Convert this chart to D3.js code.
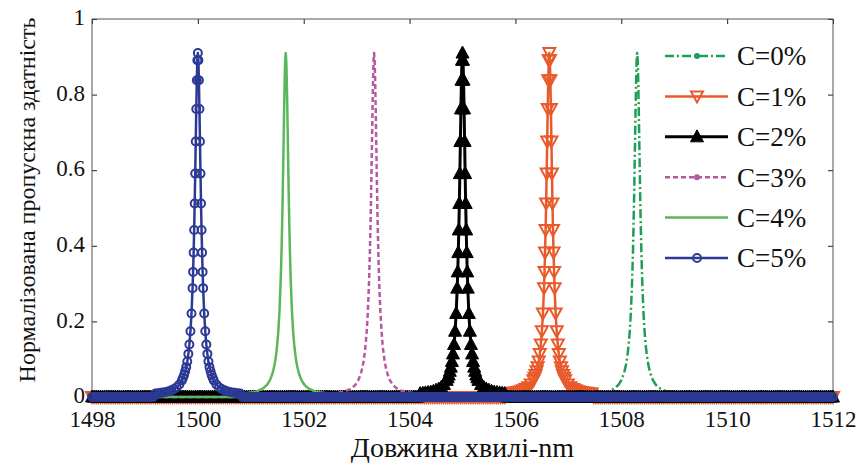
<!DOCTYPE html>
<meta charset="utf-8">
<head>
<style type='text/css'>
  body {
    margin: 0;
    background: #fff;
  }
  .axis .domain {
    display: none;
  }
  .axis line {
    stroke: #222;
  }
  .frame {
    fill: none;
    stroke: #555;
    stroke-width: 1;
  }
</style>
</head>
<body>
<div id="chart"></div>
<script src="https://d3js.org/d3.v7.min.js"></script>
<script>
// series names, in the order they were plotted
var labels = ["C=0%", "C=1%", "C=2%", "C=3%", "C=4%", "C=5%"];
// peak wavelength of each series (nm)
var centers = [1508.30, 1506.64, 1505.00, 1503.33, 1501.66, 1500.00];
// peak shape: distance from the peak (nm) and transmission
var peakOffset = [0, 0.01, 0.02, 0.03, 0.04, 0.05, 0.06, 0.07, 0.08, 0.09, 0.10,
                  0.12, 0.14, 0.16, 0.18, 0.20, 0.22, 0.24, 0.26, 0.28, 0.30,
                  0.35, 0.40, 0.45, 0.50, 0.55, 0.60, 0.65, 0.70, 0.75, 0.80];
var peakValue = [0.910, 0.891, 0.838, 0.762, 0.676, 0.591, 0.512, 0.442, 0.382, 0.331, 0.288,
                 0.221, 0.174, 0.139, 0.114, 0.094, 0.079, 0.068, 0.058, 0.051, 0.044,
                 0.033, 0.026, 0.021, 0.018, 0.015, 0.013, 0.012, 0.011, 0.010, 0.009];
// flat level away from the peaks, and the wavelength sampling of the flat part
var baseValue = 0;
var sampleStart = 1498, sampleEnd = 1512, sampleStep = 0.04;
// axis ticks
var xTicks = [1498, 1500, 1502, 1504, 1506, 1508, 1510, 1512];
var yTicks = [0, 0.2, 0.4, 0.6, 0.8, 1];

var width = 863,
    height = 464;
var serif = "Liberation Serif, Times New Roman, Tinos, DejaVu Serif, serif";

var svg = d3.select("#chart").append("svg")
    .attr("width", width)
    .attr("height", height);

var x = d3.scaleLinear().domain([1498, 1512]).range([92, 833]);
var y = d3.scaleLinear().domain([0, 1]).range([397, 19]);

// line styles per series
var colors = ["#1f9e55", "#e95a2b", "#000000", "#b8589e", "#5ab75a", "#2c3a95"];
var dashes = ["9,3,2,3", null, null, "5,3", null, null];
var widths = [2.5, 2.5, 3, 2.5, 2.5, 2.5];
var markers = ["dot", "down", "up", "dot", null, "circle"];
var plotMarkers = [false, true, true, false, false, true];

// build each spectrum: flat samples away from the peak, the read shape around it
var maxOff = d3.max(peakOffset);
var series = centers.map(function(c, i) {
  var pts = [];
  d3.range(sampleStart, sampleEnd + 1e-9, sampleStep).forEach(function(w) {
    if (Math.abs(w - c) > maxOff + 0.02) pts.push([w, baseValue]);
  });
  peakOffset.forEach(function(o, k) {
    pts.push([c - o, peakValue[k]]);
    if (o > 0) pts.push([c + o, peakValue[k]]);
  });
  pts.sort(function(a, b) { return a[0] - b[0]; });
  return {name: labels[i], points: pts};
});

var line = d3.line()
    .x(function(d) { return x(d[0]); })
    .y(function(d) { return y(d[1]); });

function drawMarker(sel, type, color) {
  if (type == "circle") {
    sel.append("circle").attr("r", 4)
      .attr("fill", "none").attr("stroke", color).attr("stroke-width", 2);
  } else if (type == "up") {
    sel.append("path").attr("d", "M0,-7L6.5,5L-6.5,5Z")
      .attr("fill", color).attr("stroke", color).attr("stroke-width", 1);
  } else if (type == "down") {
    sel.append("path").attr("d", "M-6,-5L6,-5L0,6Z")
      .attr("fill", "none").attr("stroke", color).attr("stroke-width", 2);
  } else if (type == "dot") {
    sel.append("circle").attr("r", 3).attr("fill", color);
  }
}

// axes: ticks point inwards on all four sides
var xAxis = svg.append("g")
    .attr("class", "axis")
    .attr("transform", "translate(0," + y(0) + ")")
    .call(d3.axisBottom(x).tickValues(xTicks).tickSizeInner(-5).tickSizeOuter(0).tickPadding(14).tickFormat(d3.format("d")));

svg.append("g")
    .attr("class", "axis")
    .attr("transform", "translate(0," + y(1) + ")")
    .call(d3.axisTop(x).tickValues(xTicks).tickSizeInner(-5).tickSizeOuter(0).tickFormat(""));

var yAxis = svg.append("g")
    .attr("class", "axis")
    .attr("transform", "translate(" + x(1498) + ",0)")
    .call(d3.axisLeft(y).tickValues(yTicks).tickSizeInner(-5).tickSizeOuter(0).tickPadding(7).tickFormat(d3.format("")));
yAxis.selectAll("text").attr("dy", "0.25em");

svg.append("g")
    .attr("class", "axis")
    .attr("transform", "translate(" + x(1512) + ",0)")
    .call(d3.axisRight(y).tickValues(yTicks).tickSizeInner(-5).tickSizeOuter(0).tickFormat(""));

[xAxis, yAxis].forEach(function(a) {
  a.attr("font-family", serif).attr("font-size", 23)
   .selectAll("text").style("font-family", serif).attr("fill", "#111");
});

svg.append("rect")
    .attr("class", "frame")
    .attr("x", x(1498))
    .attr("y", y(1))
    .attr("width", x(1512) - x(1498))
    .attr("height", y(0) - y(1));

// spectra, later series on top
series.forEach(function(s, i) {
  var g = svg.append("g");
  g.append("path")
      .datum(s.points)
      .attr("fill", "none")
      .attr("stroke", colors[i])
      .attr("stroke-width", widths[i])
      .attr("stroke-dasharray", dashes[i])
      .attr("stroke-linejoin", "round")
      .attr("d", line);
  if (plotMarkers[i]) {
    var m = g.selectAll("g")
        .data(s.points)
      .enter().append("g")
        .attr("transform", function(d) { return "translate(" + x(d[0]) + "," + y(d[1]) + ")"; });
    drawMarker(m, markers[i], colors[i]);
  }
});

// legend
var legend = svg.append("g")
    .attr("class", "legend")
  .selectAll("g")
    .data(labels)
  .enter().append("g")
    .attr("transform", function(d, i) { return "translate(665," + (56 + i * 40.4) + ")"; });

legend.append("line")
    .attr("x1", 0)
    .attr("x2", 63)
    .attr("stroke", function(d, i) { return colors[i]; })
    .attr("stroke-width", function(d, i) { return widths[i]; })
    .attr("stroke-dasharray", function(d, i) { return dashes[i]; });

legend.each(function(d, i) {
  var m = d3.select(this).append("g").attr("transform", "translate(32,0)");
  drawMarker(m, markers[i], colors[i]);
});

legend.append("text")
    .attr("x", 72)
    .attr("dy", "0.35em")
    .style("font-family", serif)
    .attr("font-size", 27)
    .attr("fill", "#111")
    .text(function(d) { return d; });

// axis titles
svg.append("text")
    .attr("text-anchor", "middle")
    .style("font-family", serif)
    .attr("font-size", 28)
    .attr("fill", "#111")
    .attr("x", x(1505))
    .attr("y", 457)
    .text("Довжина хвилі-nm");

svg.append("text")
    .attr("text-anchor", "middle")
    .style("font-family", serif)
    .attr("font-size", 24)
    .attr("fill", "#111")
    .attr("transform", "translate(35," + 200 + ")rotate(-90)")
    .text("Нормалізована пропускна здатність");
</script>
</body>
